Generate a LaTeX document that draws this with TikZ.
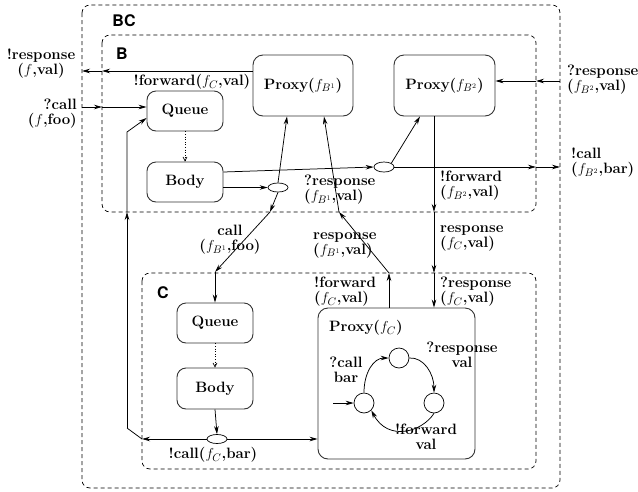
\documentclass[tikz,border=0pt]{standalone}
\usepackage{fontspec}
\newfontfamily\helv{TeX Gyre Heros}
\usetikzlibrary{arrows.meta,shapes.geometric,calc}
\begin{document}
\begin{tikzpicture}[x=1pt,y=-1pt,
  font=\fontsize{15}{15}\selectfont\bfseries,
  box/.style={draw=black!80, line width=0.9pt, rounded corners=9pt, inner sep=0pt, minimum width=76pt, minimum height=40pt},
  pbox/.style={draw=black!80, line width=0.9pt, rounded corners=10pt, inner sep=0pt, minimum width=100pt, minimum height=61pt},
  region/.style={draw, dash pattern=on 4pt off 3pt, rounded corners=8pt, line width=0.7pt},
  ell/.style={draw, ellipse, minimum width=20pt, minimum height=9pt, inner sep=0pt, line width=0.7pt},
  st/.style={draw, circle, minimum size=20pt, inner sep=0pt, line width=0.7pt},
  conn/.style={line width=0.75pt},
  arr/.style={-{Stealth[length=8pt,width=4.5pt]}},
  dots/.style={dotted, line width=0.6pt, -{Straight Barb[length=4pt,width=4pt]}},
  lbl/.style={align=center, inner sep=0pt},
  tag/.style={font=\fontsize{16}{16}\helv\bfseries, inner sep=0pt}
]
\useasboundingbox (0,0) rectangle (638,491);

% regions
\draw[region] (82,5) rectangle (560,488);
\draw[region] (102,35) rectangle (536,212);
\draw[region] (142,273) rectangle (536,469);
\node[tag] (tBC) at (124,21) {BC};
\node[tag] (tB) at (122,54) {B};
\node[tag] (tC) at (163,293) {C};

% nodes
\node[pbox] (ProxyB1) at (303,85.5) {Proxy($f_{B^1}$)};
\node[pbox, minimum width=101pt] (ProxyB2) at (444.5,85.5) {Proxy($f_{B^2}$)};
\node[box] (QueueB) at (185,111) {Queue};
\node[box] (BodyB) at (185,182) {Body};
\node[box] (QueueC) at (215,323) {Queue};
\node[box, minimum height=41pt] (BodyC) at (215,388.5) {Body};
\node[draw=black!80, line width=0.9pt, rounded corners=10pt, minimum width=157pt, minimum height=151pt, inner sep=0pt] (ProxyC) at (396.5,383.5) {};
\node[lbl, anchor=west] (ProxyCl) at (329,328) {Proxy($f_C$)};
\node[ell] (e1) at (278,187.5) {};
\node[ell, minimum height=10pt] (e2) at (384,167) {};
\node[ell] (e3) at (217,439) {};
\node[st] (s1) at (399,358) {};
\node[st] (s2) at (364,403) {};
\node[st] (s3) at (434,403) {};

% coordinates
\coordinate (rB) at (102,71);
\coordinate (rO) at (82,71);
\coordinate (cO) at (82,107);
\coordinate (cB) at (102,107);
\coordinate (bl) at (0,172);
\coordinate (k1) at (270,212);
\coordinate (k2) at (215,272);
\coordinate (m1) at (389,273);
\coordinate (m2) at (339,212);
\coordinate (v1) at (434,212);
\coordinate (v2) at (434,273);
\coordinate (x1) at (536,167);
\coordinate (x2) at (560,167);
\coordinate (y0) at (560,81);
\coordinate (y1) at (536,81);
\coordinate (z1) at (142,439);
\coordinate (z2) at (127,428);
\coordinate (z3) at (127,212);
\coordinate (z4) at (127,132);
\coordinate (in0) at (333,403);

% connectors
\draw[conn,arr] (ProxyB1.west |- rB) -- (rB);
\draw[conn,arr] (rB) -- (rO);
\draw[conn,arr] (cO) -- (cB);
\draw[conn,arr] (cB) -- (QueueB.west |- cB);
\draw[dots] (QueueB) -- (BodyB);
\draw[dots] (QueueC) -- (BodyC);
\draw[conn,arr] (BodyB.east |- e1) -- (e1);
\draw[conn,arr] (BodyB.east |- bl) -- (e2.west);
\draw[conn,arr] (e1.north) -- ($(ProxyB1.south)+(-16,0)$);
\draw[conn,arr] (e1.south) -- (k1);
\draw[conn,arr] (k1) -- (k2);
\draw[conn,arr] (k2) -- (QueueC.north);
\draw[conn,arr] (ProxyC.north -| m1) -- (m1);
\draw[conn,arr] (m1) -- (m2);
\draw[conn,arr] (m2) -- ($(ProxyB1.south)+(21,0)$);
\draw[conn,arr] (ProxyB2.south -| v1) -- (v1);
\draw[conn,arr] (v1) -- (v2);
\draw[conn,arr] (v2) -- (ProxyC.north -| v2);
\draw[conn,arr] (e2.north east) -- ($(ProxyB2.south)+(-24.5,0)$);
\draw[conn,arr] (e2.east) -- (x1);
\draw[conn,arr] (x1) -- (x2);
\draw[conn,arr] (y0) -- (y1);
\draw[conn,arr] (y1) -- (ProxyB2.east |- y1);
\draw[conn,arr] (BodyC.south) -- (e3.north);
\draw[conn,arr] (e3.west) -- (z1);
\draw[conn] (z1) -- (z2);
\draw[conn,arr] (z2) -- (z3);
\draw[conn,arr] (z3) -- (z4) -- ($(QueueB.west)+(0,7)$);
\draw[conn,arr] (e3.east) -- (ProxyC.west |- e3);

% automaton
\draw[conn,arr] (in0) -- (s2.west);
\draw[conn,arr] (s2.north) .. controls (364,372) and (374,358) .. (s1.west);
\draw[conn,arr] (s1.east) .. controls (424,357) and (434,374) .. (s3.north);
\draw[conn,arr] (s3.south) .. controls (422,432) and (388,442) .. (s2.south east);

% labels
\node[lbl] (l1) at (41,64) {!response\\($f$,val)};
\node[lbl, align=right, anchor=east] (l2) at (77,114) {?call\\($f$,foo)};
\node[lbl] (l3) at (192,82) {!forward($f_C$,val)};
\node[lbl] (l4) at (230,240) {call\\($f_{B^1}$,foo)};
\node[lbl, align=left, anchor=west] (l5) at (304,190) {?response\\($f_{B^1}$,val)};
\node[lbl, align=left, anchor=west] (l6) at (313,245) {response\\($f_{B^1}$,val)};
\node[lbl, align=left, anchor=west] (l7) at (440,186) {!forward\\($f_{B^2}$,val)};
\node[lbl, align=left, anchor=west] (l8) at (440,238) {response\\($f_C$,val)};
\node[lbl, align=left, anchor=west] (l9) at (440,292) {?response\\($f_C$,val)};
\node[lbl, align=left, anchor=west] (l10) at (314,292) {!forward\\($f_C$,val)};
\node[lbl, align=left, anchor=west] (l11) at (571,163) {!call\\($f_{B^2}$,bar)};
\node[lbl, align=left, anchor=west] (l12) at (567,80) {?response\\($f_{B^2}$,val)};
\node[lbl] (l13) at (213,455) {!call($f_C$,bar)};
\node[lbl] (l14) at (346,370) {?call\\bar};
\node[lbl] (l15) at (462,355) {?response\\val};
\node[lbl] (l16) at (426,437) {!forward\\val};
\end{tikzpicture}
\end{document}
